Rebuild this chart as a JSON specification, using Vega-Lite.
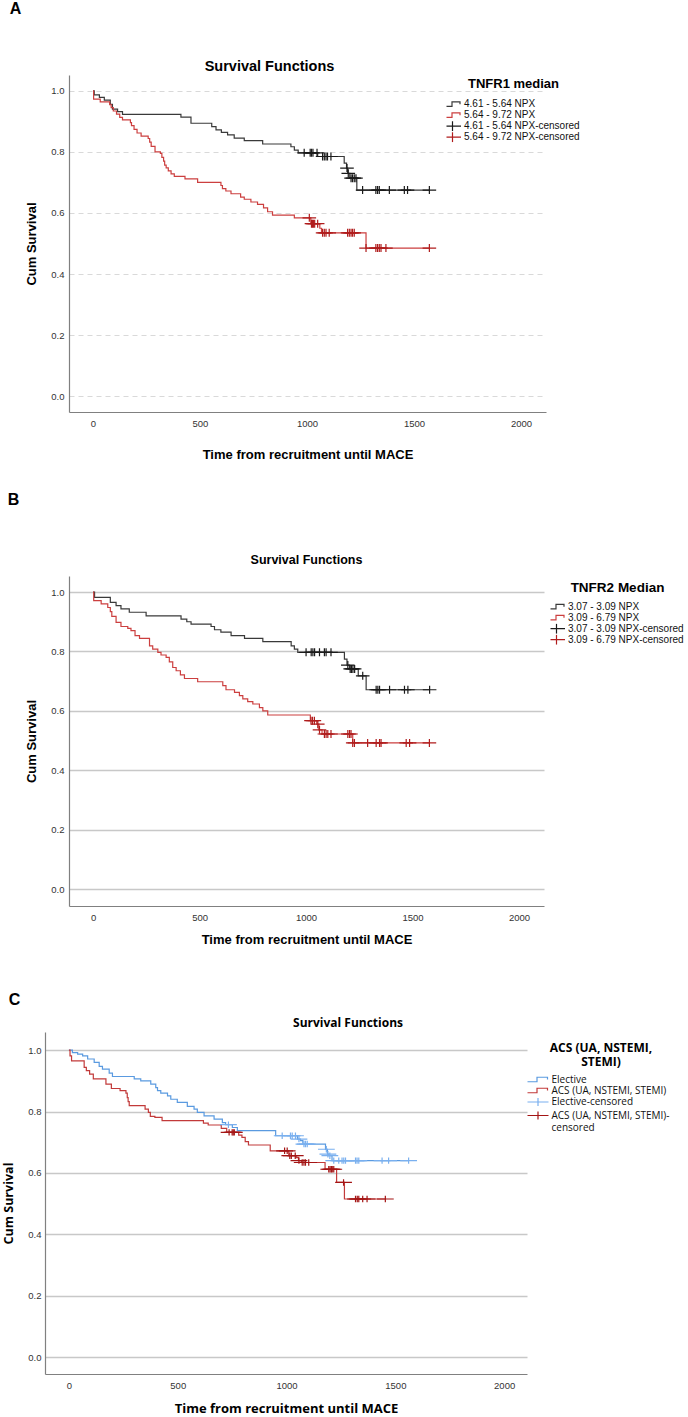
{
  "$schema": "https://vega.github.io/schema/vega-lite/v6.json",
  "background": "white",
  "padding": {"left": 2, "top": 0, "right": 2, "bottom": 0},
  "config": {
    "view": {"stroke": null},
    "font": "Liberation Sans",
    "axis": {
      "labelFont": "Liberation Sans", "labelFontSize": 9.5, "labelColor": "#333333",
      "titleFont": "Liberation Sans", "titleFontSize": 13, "titleFontWeight": "bold", "titleColor": "#000000",
      "domainColor": "#808080", "domainWidth": 1.2, "ticks": false
    }
  },
  "columns": 1,
  "align": "none",
  "spacing": 30,
  "resolve": {"scale": {"x": "independent", "y": "independent", "color": "independent", "shape": "independent", "stroke": "independent"}, "legend": {"color": "independent", "shape": "independent"}},
  "concat": [
    {
      "title": {"text": "A", "anchor": "start", "frame": "bounds", "fontSize": 16, "fontWeight": "bold", "font": "Liberation Sans", "color": "#000000", "offset": 42, "dx": -16},
      "bounds": "flush",
      "spacing": 0,
      "resolve": {"scale": {"color": "independent", "shape": "independent", "stroke": "independent"}},
      "hconcat": [
        {"width": 23.5, "height": 1, "data": {"values": []}, "mark": "point"},
        {
          "width": 477, "height": 337,
          "title": {"text": "Survival Functions", "fontSize": 14.5, "fontWeight": "bold", "font": "Liberation Sans", "color": "#000000", "anchor": "middle", "frame": "group", "offset": 1, "dx": -38},
          "encoding": {
            "x": {"field": "t", "type": "quantitative", "scale": {"domain": [-112, 2117], "nice": false, "zero": false},
              "axis": {"title": "Time from recruitment until MACE", "values": [0, 500, 1000, 1500, 2000], "format": "d", "grid": false, "labelPadding": 6, "titlePadding": 20.5}},
            "y": {"field": "s", "type": "quantitative", "scale": {"domain": [-0.052, 1.052], "nice": false, "zero": false},
              "axis": {"title": "Cum Survival", "values": [0, 0.2, 0.4, 0.6, 0.8, 1], "format": ".1f", "grid": true, "gridDash": [5, 4], "gridColor": "#d9d9d9", "gridWidth": 1.2, "labelPadding": 5, "titlePadding": 12}}
          },
          "layer": [
            {
              "data": {"values": [
                {"series": "4.61 - 5.64 NPX", "t": 0, "s": 1.0}, {"series": "4.61 - 5.64 NPX", "t": 6, "s": 0.987}, {"series": "4.61 - 5.64 NPX", "t": 30, "s": 0.979}, {"series": "4.61 - 5.64 NPX", "t": 53, "s": 0.970}, {"series": "4.61 - 5.64 NPX", "t": 81, "s": 0.956}, {"series": "4.61 - 5.64 NPX", "t": 91, "s": 0.940}, {"series": "4.61 - 5.64 NPX", "t": 115, "s": 0.932}, {"series": "4.61 - 5.64 NPX", "t": 138, "s": 0.923}, {"series": "4.61 - 5.64 NPX", "t": 411, "s": 0.914}, {"series": "4.61 - 5.64 NPX", "t": 458, "s": 0.894}, {"series": "4.61 - 5.64 NPX", "t": 555, "s": 0.883}, {"series": "4.61 - 5.64 NPX", "t": 575, "s": 0.872}, {"series": "4.61 - 5.64 NPX", "t": 600, "s": 0.864}, {"series": "4.61 - 5.64 NPX", "t": 629, "s": 0.856}, {"series": "4.61 - 5.64 NPX", "t": 660, "s": 0.845}, {"series": "4.61 - 5.64 NPX", "t": 707, "s": 0.837}, {"series": "4.61 - 5.64 NPX", "t": 793, "s": 0.826}, {"series": "4.61 - 5.64 NPX", "t": 925, "s": 0.817}, {"series": "4.61 - 5.64 NPX", "t": 941, "s": 0.806}, {"series": "4.61 - 5.64 NPX", "t": 959, "s": 0.797}, {"series": "4.61 - 5.64 NPX", "t": 1050, "s": 0.785}, {"series": "4.61 - 5.64 NPX", "t": 1174, "s": 0.763}, {"series": "4.61 - 5.64 NPX", "t": 1185, "s": 0.747}, {"series": "4.61 - 5.64 NPX", "t": 1190, "s": 0.730}, {"series": "4.61 - 5.64 NPX", "t": 1200, "s": 0.714}, {"series": "4.61 - 5.64 NPX", "t": 1233, "s": 0.675}, {"series": "4.61 - 5.64 NPX", "t": 1572, "s": 0.675},
                {"series": "5.64 - 9.72 NPX", "t": 0, "s": 1.0}, {"series": "5.64 - 9.72 NPX", "t": 3, "s": 0.973}, {"series": "5.64 - 9.72 NPX", "t": 34, "s": 0.964}, {"series": "5.64 - 9.72 NPX", "t": 78, "s": 0.955}, {"series": "5.64 - 9.72 NPX", "t": 85, "s": 0.945}, {"series": "5.64 - 9.72 NPX", "t": 95, "s": 0.934}, {"series": "5.64 - 9.72 NPX", "t": 110, "s": 0.924}, {"series": "5.64 - 9.72 NPX", "t": 125, "s": 0.913}, {"series": "5.64 - 9.72 NPX", "t": 138, "s": 0.905}, {"series": "5.64 - 9.72 NPX", "t": 175, "s": 0.896}, {"series": "5.64 - 9.72 NPX", "t": 180, "s": 0.886}, {"series": "5.64 - 9.72 NPX", "t": 192, "s": 0.874}, {"series": "5.64 - 9.72 NPX", "t": 206, "s": 0.862}, {"series": "5.64 - 9.72 NPX", "t": 225, "s": 0.852}, {"series": "5.64 - 9.72 NPX", "t": 258, "s": 0.844}, {"series": "5.64 - 9.72 NPX", "t": 265, "s": 0.832}, {"series": "5.64 - 9.72 NPX", "t": 272, "s": 0.818}, {"series": "5.64 - 9.72 NPX", "t": 290, "s": 0.800}, {"series": "5.64 - 9.72 NPX", "t": 315, "s": 0.795}, {"series": "5.64 - 9.72 NPX", "t": 322, "s": 0.782}, {"series": "5.64 - 9.72 NPX", "t": 330, "s": 0.770}, {"series": "5.64 - 9.72 NPX", "t": 335, "s": 0.757}, {"series": "5.64 - 9.72 NPX", "t": 342, "s": 0.748}, {"series": "5.64 - 9.72 NPX", "t": 352, "s": 0.738}, {"series": "5.64 - 9.72 NPX", "t": 365, "s": 0.728}, {"series": "5.64 - 9.72 NPX", "t": 380, "s": 0.720}, {"series": "5.64 - 9.72 NPX", "t": 430, "s": 0.712}, {"series": "5.64 - 9.72 NPX", "t": 489, "s": 0.700}, {"series": "5.64 - 9.72 NPX", "t": 598, "s": 0.690}, {"series": "5.64 - 9.72 NPX", "t": 605, "s": 0.680}, {"series": "5.64 - 9.72 NPX", "t": 621, "s": 0.672}, {"series": "5.64 - 9.72 NPX", "t": 645, "s": 0.663}, {"series": "5.64 - 9.72 NPX", "t": 690, "s": 0.652}, {"series": "5.64 - 9.72 NPX", "t": 707, "s": 0.645}, {"series": "5.64 - 9.72 NPX", "t": 738, "s": 0.636}, {"series": "5.64 - 9.72 NPX", "t": 769, "s": 0.628}, {"series": "5.64 - 9.72 NPX", "t": 797, "s": 0.617}, {"series": "5.64 - 9.72 NPX", "t": 816, "s": 0.604}, {"series": "5.64 - 9.72 NPX", "t": 839, "s": 0.593}, {"series": "5.64 - 9.72 NPX", "t": 941, "s": 0.584}, {"series": "5.64 - 9.72 NPX", "t": 1018, "s": 0.565}, {"series": "5.64 - 9.72 NPX", "t": 1060, "s": 0.550}, {"series": "5.64 - 9.72 NPX", "t": 1068, "s": 0.535}, {"series": "5.64 - 9.72 NPX", "t": 1276, "s": 0.485}, {"series": "5.64 - 9.72 NPX", "t": 1572, "s": 0.485}
              ]},
              "mark": {"type": "line", "interpolate": "step-after", "strokeWidth": 1.2},
              "encoding": {
                "stroke": {"field": "series", "type": "nominal", "legend": null,
                  "scale": {"domain": ["4.61 - 5.64 NPX", "5.64 - 9.72 NPX"], "range": ["#3a3a3a", "#cc3f3f"]}}
              }
            },
            {
              "data": {"values": [
                {"series": "4.61 - 5.64 NPX-censored", "t": 987, "s": 0.797}, {"series": "4.61 - 5.64 NPX-censored", "t": 1015, "s": 0.797}, {"series": "4.61 - 5.64 NPX-censored", "t": 1021, "s": 0.797}, {"series": "4.61 - 5.64 NPX-censored", "t": 1028, "s": 0.797}, {"series": "4.61 - 5.64 NPX-censored", "t": 1047, "s": 0.797}, {"series": "4.61 - 5.64 NPX-censored", "t": 1073, "s": 0.785}, {"series": "4.61 - 5.64 NPX-censored", "t": 1081, "s": 0.785}, {"series": "4.61 - 5.64 NPX-censored", "t": 1089, "s": 0.785}, {"series": "4.61 - 5.64 NPX-censored", "t": 1096, "s": 0.785}, {"series": "4.61 - 5.64 NPX-censored", "t": 1112, "s": 0.785}, {"series": "4.61 - 5.64 NPX-censored", "t": 1187, "s": 0.747}, {"series": "4.61 - 5.64 NPX-censored", "t": 1193, "s": 0.730}, {"series": "4.61 - 5.64 NPX-censored", "t": 1206, "s": 0.714}, {"series": "4.61 - 5.64 NPX-censored", "t": 1213, "s": 0.714}, {"series": "4.61 - 5.64 NPX-censored", "t": 1221, "s": 0.714}, {"series": "4.61 - 5.64 NPX-censored", "t": 1229, "s": 0.714}, {"series": "4.61 - 5.64 NPX-censored", "t": 1260, "s": 0.675}, {"series": "4.61 - 5.64 NPX-censored", "t": 1322, "s": 0.675}, {"series": "4.61 - 5.64 NPX-censored", "t": 1330, "s": 0.675}, {"series": "4.61 - 5.64 NPX-censored", "t": 1338, "s": 0.675}, {"series": "4.61 - 5.64 NPX-censored", "t": 1385, "s": 0.675}, {"series": "4.61 - 5.64 NPX-censored", "t": 1455, "s": 0.675}, {"series": "4.61 - 5.64 NPX-censored", "t": 1470, "s": 0.675}, {"series": "4.61 - 5.64 NPX-censored", "t": 1572, "s": 0.675},
                {"series": "5.64 - 9.72 NPX-censored", "t": 1011, "s": 0.584}, {"series": "5.64 - 9.72 NPX-censored", "t": 1021, "s": 0.565}, {"series": "5.64 - 9.72 NPX-censored", "t": 1026, "s": 0.565}, {"series": "5.64 - 9.72 NPX-censored", "t": 1030, "s": 0.565}, {"series": "5.64 - 9.72 NPX-censored", "t": 1036, "s": 0.565}, {"series": "5.64 - 9.72 NPX-censored", "t": 1050, "s": 0.565}, {"series": "5.64 - 9.72 NPX-censored", "t": 1073, "s": 0.535}, {"series": "5.64 - 9.72 NPX-censored", "t": 1081, "s": 0.535}, {"series": "5.64 - 9.72 NPX-censored", "t": 1089, "s": 0.535}, {"series": "5.64 - 9.72 NPX-censored", "t": 1104, "s": 0.535}, {"series": "5.64 - 9.72 NPX-censored", "t": 1190, "s": 0.535}, {"series": "5.64 - 9.72 NPX-censored", "t": 1198, "s": 0.535}, {"series": "5.64 - 9.72 NPX-censored", "t": 1206, "s": 0.535}, {"series": "5.64 - 9.72 NPX-censored", "t": 1213, "s": 0.535}, {"series": "5.64 - 9.72 NPX-censored", "t": 1221, "s": 0.535}, {"series": "5.64 - 9.72 NPX-censored", "t": 1276, "s": 0.485}, {"series": "5.64 - 9.72 NPX-censored", "t": 1322, "s": 0.485}, {"series": "5.64 - 9.72 NPX-censored", "t": 1330, "s": 0.485}, {"series": "5.64 - 9.72 NPX-censored", "t": 1338, "s": 0.485}, {"series": "5.64 - 9.72 NPX-censored", "t": 1346, "s": 0.485}, {"series": "5.64 - 9.72 NPX-censored", "t": 1369, "s": 0.485}, {"series": "5.64 - 9.72 NPX-censored", "t": 1572, "s": 0.485}
              ]},
              "mark": {"type": "point", "filled": false, "size": 64, "strokeWidth": 1.2, "opacity": 1},
              "encoding": {
                "color": {"field": "series", "type": "nominal",
                  "scale": {"domain": ["4.61 - 5.64 NPX", "5.64 - 9.72 NPX", "4.61 - 5.64 NPX-censored", "5.64 - 9.72 NPX-censored"], "range": ["#3a3a3a", "#cc3f3f", "#1a1a1a", "#b01c1c"]},
                  "legend": {"title": "TNFR1 median", "orient": "none", "legendX": 377.5, "legendY": 3, "titleFont": "Liberation Sans", "titleFontSize": 13, "titleFontWeight": "bold", "titleColor": "#000000", "titleAnchor": "middle", "titlePadding": 8, "labelFont": "Liberation Sans", "labelFontSize": 10, "labelColor": "#111111", "labelLimit": 300, "symbolSize": 100, "symbolStrokeWidth": 1.2, "labelOffset": 5.5, "rowPadding": 0, "clipHeight": 10.3}},
                "shape": {"field": "series", "type": "nominal",
                  "scale": {"domain": ["4.61 - 5.64 NPX", "5.64 - 9.72 NPX", "4.61 - 5.64 NPX-censored", "5.64 - 9.72 NPX-censored"], "range": ["M-1.7,0.45H-0.1V-0.45H1.5V0", "M-1.7,0.45H-0.1V-0.45H1.5V0", "M-1.7,0H1.7M0,-1V1", "M-1.7,0H1.7M0,-1V1"]},
                  "legend": {"title": "TNFR1 median", "orient": "none", "legendX": 377.5, "legendY": 3, "titleFont": "Liberation Sans", "titleFontSize": 13, "titleFontWeight": "bold", "titleColor": "#000000", "titleAnchor": "middle", "titlePadding": 8, "labelFont": "Liberation Sans", "labelFontSize": 10, "labelColor": "#111111", "labelLimit": 300, "symbolSize": 100, "symbolStrokeWidth": 1.2, "labelOffset": 5.5, "rowPadding": 0, "clipHeight": 10.3}}
              }
            }
          ]
        }
      ]
    },
    {
      "title": {"text": "B", "anchor": "start", "frame": "bounds", "fontSize": 16, "fontWeight": "bold", "font": "Liberation Sans", "color": "#000000", "offset": 46, "dx": -18},
      "bounds": "flush",
      "spacing": 0,
      "resolve": {"scale": {"color": "independent", "shape": "independent", "stroke": "independent"}},
      "hconcat": [
        {"width": 23.5, "height": 1, "data": {"values": []}, "mark": "point"},
        {
          "width": 475, "height": 330,
          "title": {"text": "Survival Functions", "fontSize": 12.5, "fontWeight": "bold", "font": "Liberation Sans", "color": "#000000", "anchor": "middle", "frame": "group", "offset": 10},
          "encoding": {
            "x": {"field": "t", "type": "quantitative", "scale": {"domain": [-113, 2117], "nice": false, "zero": false},
              "axis": {"title": ["Time from recruitment until MACE", " "], "titleLineHeight": 15, "values": [0, 500, 1000, 1500, 2000], "format": "d", "grid": false, "labelPadding": 6, "titlePadding": 12}},
            "y": {"field": "s", "type": "quantitative", "scale": {"domain": [-0.057, 1.054], "nice": false, "zero": false},
              "axis": {"title": "Cum Survival", "values": [0, 0.2, 0.4, 0.6, 0.8, 1], "format": ".1f", "grid": true, "gridColor": "#c8c8c8", "gridWidth": 1.3, "labelPadding": 5, "titlePadding": 12}}
          },
          "layer": [
            {
              "data": {"values": [
                {"series": "3.07 - 3.09 NPX", "t": 0, "s": 1.0}, {"series": "3.07 - 3.09 NPX", "t": 7, "s": 0.982}, {"series": "3.07 - 3.09 NPX", "t": 81, "s": 0.965}, {"series": "3.07 - 3.09 NPX", "t": 108, "s": 0.954}, {"series": "3.07 - 3.09 NPX", "t": 131, "s": 0.943}, {"series": "3.07 - 3.09 NPX", "t": 170, "s": 0.932}, {"series": "3.07 - 3.09 NPX", "t": 249, "s": 0.920}, {"series": "3.07 - 3.09 NPX", "t": 413, "s": 0.909}, {"series": "3.07 - 3.09 NPX", "t": 440, "s": 0.900}, {"series": "3.07 - 3.09 NPX", "t": 460, "s": 0.892}, {"series": "3.07 - 3.09 NPX", "t": 554, "s": 0.884}, {"series": "3.07 - 3.09 NPX", "t": 570, "s": 0.873}, {"series": "3.07 - 3.09 NPX", "t": 600, "s": 0.865}, {"series": "3.07 - 3.09 NPX", "t": 648, "s": 0.853}, {"series": "3.07 - 3.09 NPX", "t": 711, "s": 0.844}, {"series": "3.07 - 3.09 NPX", "t": 797, "s": 0.833}, {"series": "3.07 - 3.09 NPX", "t": 930, "s": 0.819}, {"series": "3.07 - 3.09 NPX", "t": 945, "s": 0.808}, {"series": "3.07 - 3.09 NPX", "t": 961, "s": 0.797}, {"series": "3.07 - 3.09 NPX", "t": 1180, "s": 0.774}, {"series": "3.07 - 3.09 NPX", "t": 1192, "s": 0.754}, {"series": "3.07 - 3.09 NPX", "t": 1204, "s": 0.741}, {"series": "3.07 - 3.09 NPX", "t": 1245, "s": 0.718}, {"series": "3.07 - 3.09 NPX", "t": 1282, "s": 0.671}, {"series": "3.07 - 3.09 NPX", "t": 1580, "s": 0.671},
                {"series": "3.09 - 6.79 NPX", "t": 0, "s": 1.0}, {"series": "3.09 - 6.79 NPX", "t": 3, "s": 0.971}, {"series": "3.09 - 6.79 NPX", "t": 38, "s": 0.960}, {"series": "3.09 - 6.79 NPX", "t": 69, "s": 0.948}, {"series": "3.09 - 6.79 NPX", "t": 81, "s": 0.934}, {"series": "3.09 - 6.79 NPX", "t": 88, "s": 0.918}, {"series": "3.09 - 6.79 NPX", "t": 108, "s": 0.898}, {"series": "3.09 - 6.79 NPX", "t": 131, "s": 0.884}, {"series": "3.09 - 6.79 NPX", "t": 163, "s": 0.878}, {"series": "3.09 - 6.79 NPX", "t": 178, "s": 0.870}, {"series": "3.09 - 6.79 NPX", "t": 197, "s": 0.853}, {"series": "3.09 - 6.79 NPX", "t": 218, "s": 0.844}, {"series": "3.09 - 6.79 NPX", "t": 265, "s": 0.819}, {"series": "3.09 - 6.79 NPX", "t": 280, "s": 0.808}, {"series": "3.09 - 6.79 NPX", "t": 304, "s": 0.797}, {"series": "3.09 - 6.79 NPX", "t": 319, "s": 0.788}, {"series": "3.09 - 6.79 NPX", "t": 343, "s": 0.780}, {"series": "3.09 - 6.79 NPX", "t": 358, "s": 0.765}, {"series": "3.09 - 6.79 NPX", "t": 374, "s": 0.746}, {"series": "3.09 - 6.79 NPX", "t": 390, "s": 0.735}, {"series": "3.09 - 6.79 NPX", "t": 410, "s": 0.721}, {"series": "3.09 - 6.79 NPX", "t": 429, "s": 0.709}, {"series": "3.09 - 6.79 NPX", "t": 491, "s": 0.698}, {"series": "3.09 - 6.79 NPX", "t": 609, "s": 0.685}, {"series": "3.09 - 6.79 NPX", "t": 624, "s": 0.671}, {"series": "3.09 - 6.79 NPX", "t": 664, "s": 0.662}, {"series": "3.09 - 6.79 NPX", "t": 687, "s": 0.651}, {"series": "3.09 - 6.79 NPX", "t": 703, "s": 0.640}, {"series": "3.09 - 6.79 NPX", "t": 726, "s": 0.631}, {"series": "3.09 - 6.79 NPX", "t": 750, "s": 0.623}, {"series": "3.09 - 6.79 NPX", "t": 781, "s": 0.611}, {"series": "3.09 - 6.79 NPX", "t": 797, "s": 0.600}, {"series": "3.09 - 6.79 NPX", "t": 820, "s": 0.586}, {"series": "3.09 - 6.79 NPX", "t": 1020, "s": 0.567}, {"series": "3.09 - 6.79 NPX", "t": 1050, "s": 0.555}, {"series": "3.09 - 6.79 NPX", "t": 1060, "s": 0.536}, {"series": "3.09 - 6.79 NPX", "t": 1075, "s": 0.522}, {"series": "3.09 - 6.79 NPX", "t": 1219, "s": 0.492}, {"series": "3.09 - 6.79 NPX", "t": 1579, "s": 0.492}
              ]},
              "mark": {"type": "line", "interpolate": "step-after", "strokeWidth": 1.2},
              "encoding": {
                "stroke": {"field": "series", "type": "nominal", "legend": null,
                  "scale": {"domain": ["3.07 - 3.09 NPX", "3.09 - 6.79 NPX"], "range": ["#3a3a3a", "#cc3f3f"]}}
              }
            },
            {
              "data": {"values": [
                {"series": "3.07 - 3.09 NPX-censored", "t": 1000, "s": 0.797}, {"series": "3.07 - 3.09 NPX-censored", "t": 1024, "s": 0.797}, {"series": "3.07 - 3.09 NPX-censored", "t": 1032, "s": 0.797}, {"series": "3.07 - 3.09 NPX-censored", "t": 1040, "s": 0.797}, {"series": "3.07 - 3.09 NPX-censored", "t": 1063, "s": 0.797}, {"series": "3.07 - 3.09 NPX-censored", "t": 1086, "s": 0.797}, {"series": "3.07 - 3.09 NPX-censored", "t": 1094, "s": 0.797}, {"series": "3.07 - 3.09 NPX-censored", "t": 1117, "s": 0.797}, {"series": "3.07 - 3.09 NPX-censored", "t": 1196, "s": 0.754}, {"series": "3.07 - 3.09 NPX-censored", "t": 1207, "s": 0.741}, {"series": "3.07 - 3.09 NPX-censored", "t": 1213, "s": 0.741}, {"series": "3.07 - 3.09 NPX-censored", "t": 1220, "s": 0.741}, {"series": "3.07 - 3.09 NPX-censored", "t": 1228, "s": 0.741}, {"series": "3.07 - 3.09 NPX-censored", "t": 1266, "s": 0.718}, {"series": "3.07 - 3.09 NPX-censored", "t": 1329, "s": 0.671}, {"series": "3.07 - 3.09 NPX-censored", "t": 1337, "s": 0.671}, {"series": "3.07 - 3.09 NPX-censored", "t": 1345, "s": 0.671}, {"series": "3.07 - 3.09 NPX-censored", "t": 1392, "s": 0.671}, {"series": "3.07 - 3.09 NPX-censored", "t": 1462, "s": 0.671}, {"series": "3.07 - 3.09 NPX-censored", "t": 1478, "s": 0.671}, {"series": "3.07 - 3.09 NPX-censored", "t": 1580, "s": 0.671},
                {"series": "3.09 - 6.79 NPX-censored", "t": 1023, "s": 0.567}, {"series": "3.09 - 6.79 NPX-censored", "t": 1030, "s": 0.567}, {"series": "3.09 - 6.79 NPX-censored", "t": 1039, "s": 0.567}, {"series": "3.09 - 6.79 NPX-censored", "t": 1055, "s": 0.555}, {"series": "3.09 - 6.79 NPX-censored", "t": 1063, "s": 0.536}, {"series": "3.09 - 6.79 NPX-censored", "t": 1086, "s": 0.522}, {"series": "3.09 - 6.79 NPX-censored", "t": 1094, "s": 0.522}, {"series": "3.09 - 6.79 NPX-censored", "t": 1102, "s": 0.522}, {"series": "3.09 - 6.79 NPX-censored", "t": 1117, "s": 0.522}, {"series": "3.09 - 6.79 NPX-censored", "t": 1196, "s": 0.522}, {"series": "3.09 - 6.79 NPX-censored", "t": 1204, "s": 0.522}, {"series": "3.09 - 6.79 NPX-censored", "t": 1211, "s": 0.522}, {"series": "3.09 - 6.79 NPX-censored", "t": 1219, "s": 0.492}, {"series": "3.09 - 6.79 NPX-censored", "t": 1227, "s": 0.492}, {"series": "3.09 - 6.79 NPX-censored", "t": 1289, "s": 0.492}, {"series": "3.09 - 6.79 NPX-censored", "t": 1329, "s": 0.492}, {"series": "3.09 - 6.79 NPX-censored", "t": 1345, "s": 0.492}, {"series": "3.09 - 6.79 NPX-censored", "t": 1352, "s": 0.492}, {"series": "3.09 - 6.79 NPX-censored", "t": 1470, "s": 0.492}, {"series": "3.09 - 6.79 NPX-censored", "t": 1486, "s": 0.492}, {"series": "3.09 - 6.79 NPX-censored", "t": 1579, "s": 0.492}
              ]},
              "mark": {"type": "point", "filled": false, "size": 64, "strokeWidth": 1.2, "opacity": 1},
              "encoding": {
                "color": {"field": "series", "type": "nominal",
                  "scale": {"domain": ["3.07 - 3.09 NPX", "3.09 - 6.79 NPX", "3.07 - 3.09 NPX-censored", "3.09 - 6.79 NPX-censored"], "range": ["#3a3a3a", "#cc3f3f", "#1a1a1a", "#b01c1c"]},
                  "legend": {"title": "TNFR2 Median", "orient": "none", "legendX": 481.5, "legendY": 5, "titleFont": "Liberation Sans", "titleFontSize": 13.5, "titleFontWeight": "bold", "titleColor": "#000000", "titleAnchor": "middle", "titlePadding": 7, "labelFont": "Liberation Sans", "labelFontSize": 10, "labelColor": "#111111", "labelLimit": 300, "symbolSize": 100, "symbolStrokeWidth": 1.2, "labelOffset": 5.5, "rowPadding": 0, "clipHeight": 10.3}},
                "shape": {"field": "series", "type": "nominal",
                  "scale": {"domain": ["3.07 - 3.09 NPX", "3.09 - 6.79 NPX", "3.07 - 3.09 NPX-censored", "3.09 - 6.79 NPX-censored"], "range": ["M-1.7,0.45H-0.1V-0.45H1.5V0", "M-1.7,0.45H-0.1V-0.45H1.5V0", "M-1.7,0H1.7M0,-1V1", "M-1.7,0H1.7M0,-1V1"]},
                  "legend": {"title": "TNFR2 Median", "orient": "none", "legendX": 481.5, "legendY": 5, "titleFont": "Liberation Sans", "titleFontSize": 13.5, "titleFontWeight": "bold", "titleColor": "#000000", "titleAnchor": "middle", "titlePadding": 7, "labelFont": "Liberation Sans", "labelFontSize": 10, "labelColor": "#111111", "labelLimit": 300, "symbolSize": 100, "symbolStrokeWidth": 1.2, "labelOffset": 5.5, "rowPadding": 0, "clipHeight": 10.3}}
              }
            }
          ]
        }
      ]
    },
    {
      "title": {"text": "C", "anchor": "start", "frame": "bounds", "fontSize": 16, "fontWeight": "bold", "font": "Liberation Sans", "color": "#000000", "offset": 9, "dx": 6},
      "resolve": {"scale": {"color": "independent", "shape": "independent", "stroke": "independent"}},
      "vconcat": [
        {
          "width": 482, "height": 342,
          "title": {"text": "Survival Functions", "fontSize": 12, "fontWeight": "bold", "font": "Open Sans", "color": "#000000", "anchor": "middle", "frame": "group", "offset": 2, "dx": 62},
          "encoding": {
            "x": {"field": "t", "type": "quantitative", "scale": {"domain": [-110, 2105], "nice": false, "zero": false},
              "axis": {"title": "Time from recruitment until MACE", "titleFont": "Open Sans", "titleFontSize": 13, "values": [0, 500, 1000, 1500, 2000], "format": "d", "grid": false, "labelPadding": 6, "titlePadding": 12.5}},
            "y": {"field": "s", "type": "quantitative", "scale": {"domain": [-0.055, 1.059], "nice": false, "zero": false},
              "axis": {"title": "Cum Survival", "titleFont": "Open Sans", "titleFontSize": 12.5, "values": [0, 0.2, 0.4, 0.6, 0.8, 1], "format": ".1f", "grid": true, "gridColor": "#c8c8c8", "gridWidth": 1.3, "labelPadding": 4, "titlePadding": 12}}
          },
          "layer": [
            {
              "data": {"values": [
                {"series": "Elective", "t": 0, "s": 1.0}, {"series": "Elective", "t": 16, "s": 0.992}, {"series": "Elective", "t": 40, "s": 0.987}, {"series": "Elective", "t": 63, "s": 0.981}, {"series": "Elective", "t": 86, "s": 0.971}, {"series": "Elective", "t": 116, "s": 0.960}, {"series": "Elective", "t": 139, "s": 0.947}, {"series": "Elective", "t": 154, "s": 0.938}, {"series": "Elective", "t": 185, "s": 0.925}, {"series": "Elective", "t": 200, "s": 0.914}, {"series": "Elective", "t": 300, "s": 0.906}, {"series": "Elective", "t": 330, "s": 0.900}, {"series": "Elective", "t": 376, "s": 0.889}, {"series": "Elective", "t": 399, "s": 0.878}, {"series": "Elective", "t": 407, "s": 0.868}, {"series": "Elective", "t": 422, "s": 0.860}, {"series": "Elective", "t": 453, "s": 0.851}, {"series": "Elective", "t": 468, "s": 0.840}, {"series": "Elective", "t": 498, "s": 0.830}, {"series": "Elective", "t": 544, "s": 0.817}, {"series": "Elective", "t": 575, "s": 0.808}, {"series": "Elective", "t": 590, "s": 0.797}, {"series": "Elective", "t": 621, "s": 0.786}, {"series": "Elective", "t": 667, "s": 0.775}, {"series": "Elective", "t": 705, "s": 0.764}, {"series": "Elective", "t": 720, "s": 0.757}, {"series": "Elective", "t": 751, "s": 0.748}, {"series": "Elective", "t": 774, "s": 0.738}, {"series": "Elective", "t": 950, "s": 0.721}, {"series": "Elective", "t": 1050, "s": 0.710}, {"series": "Elective", "t": 1064, "s": 0.705}, {"series": "Elective", "t": 1075, "s": 0.694}, {"series": "Elective", "t": 1179, "s": 0.677}, {"series": "Elective", "t": 1188, "s": 0.661}, {"series": "Elective", "t": 1195, "s": 0.656}, {"series": "Elective", "t": 1209, "s": 0.640}, {"series": "Elective", "t": 1561, "s": 0.640},
                {"series": "ACS (UA, NSTEMI, STEMI)", "t": 0, "s": 1.0}, {"series": "ACS (UA, NSTEMI, STEMI)", "t": 5, "s": 0.981}, {"series": "ACS (UA, NSTEMI, STEMI)", "t": 12, "s": 0.965}, {"series": "ACS (UA, NSTEMI, STEMI)", "t": 70, "s": 0.944}, {"series": "ACS (UA, NSTEMI, STEMI)", "t": 80, "s": 0.933}, {"series": "ACS (UA, NSTEMI, STEMI)", "t": 95, "s": 0.922}, {"series": "ACS (UA, NSTEMI, STEMI)", "t": 112, "s": 0.906}, {"series": "ACS (UA, NSTEMI, STEMI)", "t": 170, "s": 0.889}, {"series": "ACS (UA, NSTEMI, STEMI)", "t": 195, "s": 0.875}, {"series": "ACS (UA, NSTEMI, STEMI)", "t": 235, "s": 0.868}, {"series": "ACS (UA, NSTEMI, STEMI)", "t": 262, "s": 0.860}, {"series": "ACS (UA, NSTEMI, STEMI)", "t": 268, "s": 0.845}, {"series": "ACS (UA, NSTEMI, STEMI)", "t": 272, "s": 0.832}, {"series": "ACS (UA, NSTEMI, STEMI)", "t": 277, "s": 0.819}, {"series": "ACS (UA, NSTEMI, STEMI)", "t": 350, "s": 0.808}, {"series": "ACS (UA, NSTEMI, STEMI)", "t": 365, "s": 0.797}, {"series": "ACS (UA, NSTEMI, STEMI)", "t": 374, "s": 0.784}, {"series": "ACS (UA, NSTEMI, STEMI)", "t": 395, "s": 0.781}, {"series": "ACS (UA, NSTEMI, STEMI)", "t": 428, "s": 0.770}, {"series": "ACS (UA, NSTEMI, STEMI)", "t": 618, "s": 0.762}, {"series": "ACS (UA, NSTEMI, STEMI)", "t": 640, "s": 0.756}, {"series": "ACS (UA, NSTEMI, STEMI)", "t": 700, "s": 0.745}, {"series": "ACS (UA, NSTEMI, STEMI)", "t": 725, "s": 0.732}, {"series": "ACS (UA, NSTEMI, STEMI)", "t": 780, "s": 0.723}, {"series": "ACS (UA, NSTEMI, STEMI)", "t": 795, "s": 0.716}, {"series": "ACS (UA, NSTEMI, STEMI)", "t": 810, "s": 0.702}, {"series": "ACS (UA, NSTEMI, STEMI)", "t": 825, "s": 0.691}, {"series": "ACS (UA, NSTEMI, STEMI)", "t": 925, "s": 0.672}, {"series": "ACS (UA, NSTEMI, STEMI)", "t": 1010, "s": 0.656}, {"series": "ACS (UA, NSTEMI, STEMI)", "t": 1044, "s": 0.650}, {"series": "ACS (UA, NSTEMI, STEMI)", "t": 1055, "s": 0.640}, {"series": "ACS (UA, NSTEMI, STEMI)", "t": 1068, "s": 0.634}, {"series": "ACS (UA, NSTEMI, STEMI)", "t": 1177, "s": 0.612}, {"series": "ACS (UA, NSTEMI, STEMI)", "t": 1230, "s": 0.569}, {"series": "ACS (UA, NSTEMI, STEMI)", "t": 1266, "s": 0.515}, {"series": "ACS (UA, NSTEMI, STEMI)", "t": 1454, "s": 0.515}
              ]},
              "mark": {"type": "line", "interpolate": "step-after", "strokeWidth": 1.2},
              "encoding": {
                "stroke": {"field": "series", "type": "nominal", "legend": null,
                  "scale": {"domain": ["Elective", "ACS (UA, NSTEMI, STEMI)"], "range": ["#5a9ae0", "#c23a3a"]}}
              }
            },
            {
              "data": {"values": [
                {"series": "Elective-censored", "t": 733, "s": 0.757}, {"series": "Elective-censored", "t": 980, "s": 0.721}, {"series": "Elective-censored", "t": 1018, "s": 0.721}, {"series": "Elective-censored", "t": 1026, "s": 0.721}, {"series": "Elective-censored", "t": 1041, "s": 0.721}, {"series": "Elective-censored", "t": 1057, "s": 0.710}, {"series": "Elective-censored", "t": 1080, "s": 0.694}, {"series": "Elective-censored", "t": 1087, "s": 0.694}, {"series": "Elective-censored", "t": 1095, "s": 0.694}, {"series": "Elective-censored", "t": 1183, "s": 0.677}, {"series": "Elective-censored", "t": 1190, "s": 0.661}, {"series": "Elective-censored", "t": 1199, "s": 0.656}, {"series": "Elective-censored", "t": 1217, "s": 0.640}, {"series": "Elective-censored", "t": 1240, "s": 0.640}, {"series": "Elective-censored", "t": 1255, "s": 0.640}, {"series": "Elective-censored", "t": 1263, "s": 0.640}, {"series": "Elective-censored", "t": 1271, "s": 0.640}, {"series": "Elective-censored", "t": 1317, "s": 0.640}, {"series": "Elective-censored", "t": 1324, "s": 0.640}, {"series": "Elective-censored", "t": 1332, "s": 0.640}, {"series": "Elective-censored", "t": 1439, "s": 0.640}, {"series": "Elective-censored", "t": 1469, "s": 0.640}, {"series": "Elective-censored", "t": 1561, "s": 0.640},
                {"series": "ACS (UA, NSTEMI, STEMI)-censored", "t": 736, "s": 0.732}, {"series": "ACS (UA, NSTEMI, STEMI)-censored", "t": 750, "s": 0.732}, {"series": "ACS (UA, NSTEMI, STEMI)-censored", "t": 755, "s": 0.732}, {"series": "ACS (UA, NSTEMI, STEMI)-censored", "t": 760, "s": 0.732}, {"series": "ACS (UA, NSTEMI, STEMI)-censored", "t": 991, "s": 0.672}, {"series": "ACS (UA, NSTEMI, STEMI)-censored", "t": 1003, "s": 0.672}, {"series": "ACS (UA, NSTEMI, STEMI)-censored", "t": 1015, "s": 0.656}, {"series": "ACS (UA, NSTEMI, STEMI)-censored", "t": 1022, "s": 0.656}, {"series": "ACS (UA, NSTEMI, STEMI)-censored", "t": 1040, "s": 0.656}, {"series": "ACS (UA, NSTEMI, STEMI)-censored", "t": 1057, "s": 0.640}, {"series": "ACS (UA, NSTEMI, STEMI)-censored", "t": 1072, "s": 0.634}, {"series": "ACS (UA, NSTEMI, STEMI)-censored", "t": 1080, "s": 0.634}, {"series": "ACS (UA, NSTEMI, STEMI)-censored", "t": 1087, "s": 0.634}, {"series": "ACS (UA, NSTEMI, STEMI)-censored", "t": 1102, "s": 0.634}, {"series": "ACS (UA, NSTEMI, STEMI)-censored", "t": 1194, "s": 0.612}, {"series": "ACS (UA, NSTEMI, STEMI)-censored", "t": 1200, "s": 0.612}, {"series": "ACS (UA, NSTEMI, STEMI)-censored", "t": 1206, "s": 0.612}, {"series": "ACS (UA, NSTEMI, STEMI)-censored", "t": 1210, "s": 0.612}, {"series": "ACS (UA, NSTEMI, STEMI)-censored", "t": 1217, "s": 0.612}, {"series": "ACS (UA, NSTEMI, STEMI)-censored", "t": 1262, "s": 0.569}, {"series": "ACS (UA, NSTEMI, STEMI)-censored", "t": 1317, "s": 0.515}, {"series": "ACS (UA, NSTEMI, STEMI)-censored", "t": 1325, "s": 0.515}, {"series": "ACS (UA, NSTEMI, STEMI)-censored", "t": 1332, "s": 0.515}, {"series": "ACS (UA, NSTEMI, STEMI)-censored", "t": 1350, "s": 0.515}, {"series": "ACS (UA, NSTEMI, STEMI)-censored", "t": 1370, "s": 0.515}, {"series": "ACS (UA, NSTEMI, STEMI)-censored", "t": 1454, "s": 0.515}
              ]},
              "mark": {"type": "point", "filled": false, "size": 64, "strokeWidth": 1.2, "opacity": 1},
              "encoding": {
                "color": {"field": "series", "type": "nominal",
                  "scale": {"domain": ["Elective", "ACS (UA, NSTEMI, STEMI)", "Elective-censored", "ACS (UA, NSTEMI, STEMI)-censored"], "range": ["#5a9ae0", "#c23a3a", "#7ab0ef", "#a41515"]},
                  "legend": {"title": ["ACS (UA, NSTEMI,", "STEMI)"], "orient": "none", "legendX": 487, "legendY": 11, "titleFont": "Open Sans", "titleFontSize": 12, "titleLineHeight": 13.5, "titleFontWeight": "bold", "titleColor": "#000000", "titleAnchor": "middle", "titleAlign": "center", "titlePadding": 5, "labelFont": "Open Sans", "labelFontSize": 10, "labelColor": "#111111", "labelLimit": 300, "symbolSize": 100, "symbolStrokeWidth": 1.2, "labelOffset": 7.5, "rowPadding": -0.5,
                    "labelExpr": "datum.label == 'ACS (UA, NSTEMI, STEMI)-censored' ? ['ACS (UA, NSTEMI, STEMI)-', 'censored'] : datum.label"}},
                "shape": {"field": "series", "type": "nominal",
                  "scale": {"domain": ["Elective", "ACS (UA, NSTEMI, STEMI)", "Elective-censored", "ACS (UA, NSTEMI, STEMI)-censored"], "range": ["M-2.1,0.45H-0.2V-0.45H1.9V0", "M-2.1,0.45H-0.2V-0.45H1.9V0", "M-2.1,0H2.1M0,-0.8V0.8", "M-2.1,0H2.1M0,-0.8V0.8"]},
                  "legend": {"title": ["ACS (UA, NSTEMI,", "STEMI)"], "orient": "none", "legendX": 487, "legendY": 11, "titleFont": "Open Sans", "titleFontSize": 12, "titleLineHeight": 13.5, "titleFontWeight": "bold", "titleColor": "#000000", "titleAnchor": "middle", "titleAlign": "center", "titlePadding": 5, "labelFont": "Open Sans", "labelFontSize": 10, "labelColor": "#111111", "labelLimit": 300, "symbolSize": 100, "symbolStrokeWidth": 1.2, "labelOffset": 7.5, "rowPadding": -0.5,
                    "labelExpr": "datum.label == 'ACS (UA, NSTEMI, STEMI)-censored' ? ['ACS (UA, NSTEMI, STEMI)-', 'censored'] : datum.label"}}
              }
            }
          ]
        }
      ]
    }
  ]
}
